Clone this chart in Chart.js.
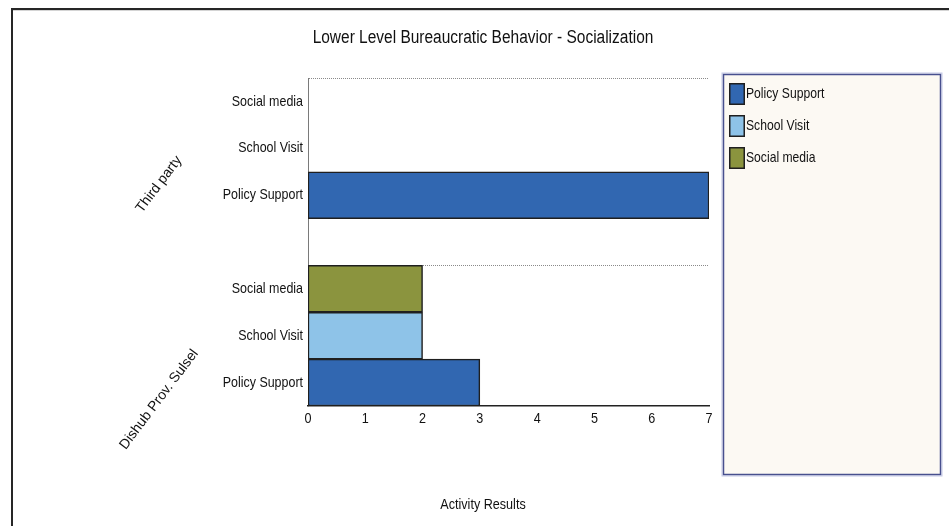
<!DOCTYPE html>
<html>
<head>
<meta charset="utf-8">
<script src="https://cdn.jsdelivr.net/npm/chart.js@4"></script>
<style>
  html, body { margin: 0; padding: 0; background: #ffffff; }
  #wrap { width: 949px; height: 526px; position: relative; }
</style>
</head>
<body>
<div id="wrap"><canvas id="chart" width="949" height="526"></canvas></div>
<script>
// Groups (top to bottom) and the activity rows inside each group (top to bottom)
const groups = ['Third party', 'Dishub Prov. Sulsel'];
const activities = ['Social media', 'School Visit', 'Policy Support'];

// Activity results per group, in the order of `groups`
const policySupport = [7, 3];
const schoolVisit = [0, 2];
const socialMedia = [0, 2];

const seriesNames = ['Policy Support', 'School Visit', 'Social media'];
const seriesValues = [policySupport, schoolVisit, socialMedia];
const seriesColors = ['#3167b1', '#8ec3e8', '#8b943e'];

const xTicks = [0, 1, 2, 3, 4, 5, 6, 7];

const chartTitle = 'Lower Level Bureaucratic Behavior - Socialization';
const xAxisTitle = 'Activity Results';

const FAMILY = '"Liberation Sans", Arial, Helvetica, sans-serif';

// Rows: each group's activities, with an empty spacer row between groups
const rowLabels = [];
const rowGroup = [];
groups.forEach((g, gi) => {
  if (gi > 0) { rowLabels.push(''); rowGroup.push(-1); }
  activities.forEach(a => { rowLabels.push(a); rowGroup.push(gi); });
});

// One dataset per series; a series only has a value on its own activity rows
const datasets = seriesNames.map((name, si) => ({
  label: name,
  data: rowLabels.map((lab, ri) =>
    (lab === name && rowGroup[ri] >= 0) ? seriesValues[si][rowGroup[ri]] : null),
  backgroundColor: seriesColors[si],
  borderColor: '#1f1f1f',
  borderWidth: 1.5,
  borderSkipped: false,
  barPercentage: 1,
  categoryPercentage: 1
}));

// Condensed text: regular sans face squeezed horizontally
function narrowText(ctx, text, x, y, size, align, squeeze) {
  ctx.save();
  ctx.font = size + 'px ' + FAMILY;
  ctx.fillStyle = '#111111';
  ctx.textBaseline = 'middle';
  ctx.textAlign = align;
  ctx.translate(x, y);
  ctx.scale(squeeze, 1);
  ctx.fillText(text, 0, 0);
  ctx.restore();
}

// Outer frame lines along the top and left
const framePlugin = {
  id: 'frame',
  beforeDraw(chart) {
    const ctx = chart.ctx;
    ctx.save();
    ctx.fillStyle = '#262626';
    ctx.fillRect(11, 8, chart.width - 11, 2);
    ctx.fillRect(11, 8, 2, chart.height - 8);
    ctx.fillStyle = '#d4d4d4';
    ctx.fillRect(13, 10, chart.width - 13, 1);
    ctx.restore();
  }
};

// Title, axis title and tick labels in the condensed face
const textPlugin = {
  id: 'narrowLabels',
  afterDraw(chart) {
    const ctx = chart.ctx;
    const xs = chart.scales.x, ys = chart.scales.y;
    const midX = (17 + chart.width) / 2;
    narrowText(ctx, chartTitle, midX, 38, 18, 'center', 0.86);
    narrowText(ctx, xAxisTitle, midX, 505, 15, 'center', 0.84);
    rowLabels.forEach((lab, i) => {
      if (lab) narrowText(ctx, lab, ys.left + ys.width - 5, ys.getPixelForValue(i), 15, 'right', 0.83);
    });
    xTicks.forEach(v => {
      narrowText(ctx, String(v), xs.getPixelForValue(v), xs.top + 13, 15, 'center', 0.84);
    });
  }
};

// Rotated group captions left of the activity labels
const groupLabelPlugin = {
  id: 'groupLabels',
  afterDraw(chart, args, opts) {
    const ctx = chart.ctx;
    const y = chart.scales.y;
    ctx.save();
    ctx.font = '14px ' + FAMILY;
    ctx.fillStyle = '#111111';
    ctx.textAlign = 'center';
    ctx.textBaseline = 'middle';
    groups.forEach((g, gi) => {
      const cy = y.getPixelForValue(opts.anchors[gi]);
      ctx.save();
      ctx.translate(opts.x, cy);
      ctx.rotate(opts.angle * Math.PI / 180);
      ctx.fillText(g, 0, 0);
      ctx.restore();
    });
    ctx.restore();
  }
};

// Boxed legend in the reserved right-hand column
const legendBoxPlugin = {
  id: 'legendBox',
  afterDraw(chart) {
    const ctx = chart.ctx;
    const area = chart.chartArea;
    const x0 = area.right + 14, y0 = area.top - 4;
    const w = chart.width - 8 - x0, h = 401;
    ctx.save();
    ctx.strokeStyle = '#c3c7e6';
    ctx.lineWidth = 1;
    ctx.strokeRect(x0 - 1, y0 - 1, w + 2, h + 2);
    ctx.fillStyle = '#fcf9f3';
    ctx.fillRect(x0, y0, w, h);
    ctx.strokeStyle = '#48508e';
    ctx.lineWidth = 1.5;
    ctx.strokeRect(x0 + 0.5, y0 + 0.5, w - 1, h - 1);
    chart.data.datasets.forEach((ds, i) => {
      const sy = y0 + 9 + i * 32;
      ctx.fillStyle = ds.backgroundColor;
      ctx.fillRect(x0 + 6, sy, 16, 22);
      ctx.strokeStyle = '#1f1f1f';
      ctx.lineWidth = 1.5;
      ctx.strokeRect(x0 + 6.75, sy + 0.75, 14.5, 20.5);
      narrowText(ctx, ds.label, x0 + 23, sy + 11, 15, 'left', 0.81);
    });
    ctx.restore();
  }
};

new Chart(document.getElementById('chart'), {
  type: 'bar',
  data: { labels: rowLabels, datasets },
  plugins: [framePlugin, textPlugin, groupLabelPlugin, legendBoxPlugin],
  options: {
    indexAxis: 'y',
    responsive: false,
    animation: false,
    layout: { padding: { left: 17, right: 0, top: 78, bottom: 40 } },
    scales: {
      x: {
        type: 'linear',
        stacked: true,
        min: 0,
        max: 7,
        afterBuildTicks(scale) { scale.ticks = xTicks.map(v => ({ value: v })); },
        afterFit(scale) { scale.height = 80; },
        grid: { display: false, drawTicks: false },
        border: { display: true, color: '#222222', width: 1.5 },
        ticks: { display: false }
      },
      y: {
        type: 'category',
        stacked: true,
        afterFit(scale) { scale.width = 291; },
        grid: {
          display: true,
          offset: true,
          drawTicks: false,
          tickLength: 0,
          lineWidth: 1,
          color(ctx) { return (ctx.index === 0 || ctx.index === 4) ? '#8a8a8a' : 'rgba(0,0,0,0)'; }
        },
        border: { display: true, color: '#7a7a7a', width: 1, dash: [1, 1] },
        ticks: { display: false }
      },
      side: {
        type: 'linear',
        position: 'right',
        afterFit(scale) { scale.width = 240; },
        grid: { display: false, drawTicks: false },
        border: { display: false },
        ticks: { display: false }
      }
    },
    plugins: {
      legend: { display: false },
      tooltip: { enabled: false },
      groupLabels: { x: 159, angle: -53, anchors: [1.77, 6.36] }
    }
  }
});
</script>
</body>
</html>
